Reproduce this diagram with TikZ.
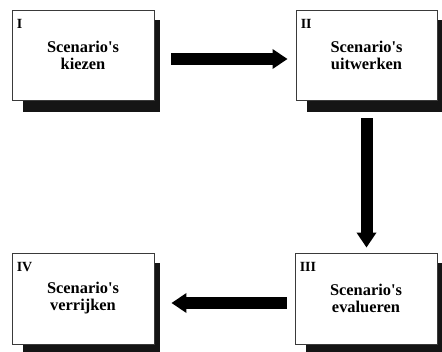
\documentclass[tikz,border=0pt]{standalone}
\usepackage{fontspec}
\setmainfont{Liberation Serif}[Ligatures=TeXOff]
\usetikzlibrary{arrows.meta}
\definecolor{shadowgray}{HTML}{151515}
\definecolor{framegray}{HTML}{3A3A3A}
\begin{document}
\begin{tikzpicture}[x=1pt,y=-1pt,
  stagebox/.style={draw=framegray, line width=0.9pt, fill=white,
    minimum width=142pt, minimum height=90pt, inner sep=0pt, align=center,
    font=\fontsize{16.4}{17}\selectfont\bfseries},
  stagenum/.style={anchor=base west, inner sep=0pt,
    font=\fontsize{14}{14}\selectfont\bfseries},
  shade/.style={fill=shadowgray},
  flow/.style={line width=12pt, black,
    -{Triangle[length=15pt,width=19pt]}}]
\useasboundingbox (0,0) rectangle (442,351);

% shadows behind the boxes
\fill[shade] (23,20) rectangle (160,112);
\fill[shade] (307,20) rectangle (443,112);
\fill[shade] (306,263) rectangle (443,356);
\fill[shade] (23,263) rectangle (160,356);

% the four stages
\node[stagebox] (s1) at (83,55) {Scenario's\\kiezen};
\node[stagebox, minimum width=141pt] (s2) at (366.5,55) {Scenario's\\uitwerken};
\node[stagebox, minimum height=91pt] (s3) at (366,298.5) {Scenario's\\evalueren};
\node[stagebox, minimum height=91pt] (s4) at (83,298.5) {Scenario's\\verrijken};

% stage numbers
\node[stagenum] (n1) at ([xshift=5pt,yshift=-19pt]s1.north west) {I};
\node[stagenum] (n2) at ([xshift=5pt,yshift=-19pt]s2.north west) {II};
\node[stagenum] (n3) at ([xshift=5pt,yshift=-19pt]s3.north west) {III};
\node[stagenum] (n4) at ([xshift=5pt,yshift=-19pt]s4.north west) {IV};

% flow between the stages
\draw[flow, shorten <=17pt, shorten >=8pt]
  ([yshift=-4pt]s1.east) -- ([yshift=-4pt]s2.west);
\draw[flow, shorten <=18pt, shorten >=5pt] (s2.south) -- (s2.south |- s3.north);
\draw[flow, shorten <=8pt, shorten >=17pt]
  ([yshift=-4.5pt]s3.west) -- ([yshift=-4.5pt]s3.west -| s4.east);
\end{tikzpicture}
\end{document}
